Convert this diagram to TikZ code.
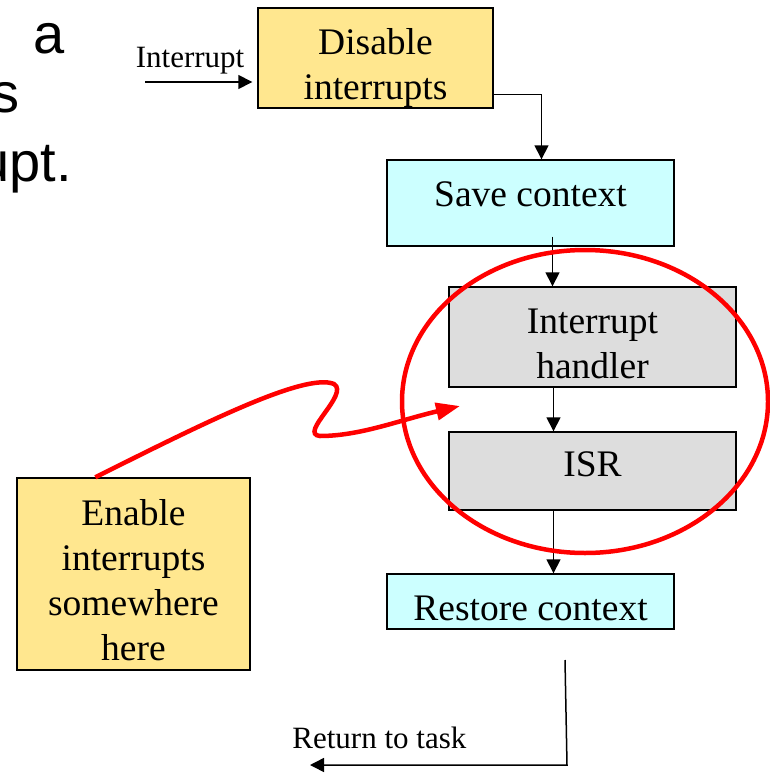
\documentclass[tikz,border=0pt]{standalone}
\usepackage{fontspec}
\setmainfont{Liberation Serif}
\newfontfamily\slidefont{Liberation Sans}
\usetikzlibrary{positioning, arrows.meta}

\definecolor{boxyellow}{RGB}{255,231,143}
\definecolor{boxcyan}{RGB}{204,255,255}
\definecolor{boxgrey}{RGB}{221,221,221}

\begin{document}
\begin{tikzpicture}[x=1pt, y=-1pt,
    box/.style={rectangle, draw=black, line width=1.4pt, inner sep=0pt},
    boxtext/.style={inner sep=0pt, align=center, font=\fontsize{37.5}{45}\selectfont},
    flow/.style={line width=1.5pt, -{Triangle[length=14pt, width=14pt]}},
    hint/.style={draw=red, line width=4.5pt},
    slide/.style={inner sep=0pt, anchor=base east, font=\slidefont\fontsize{56}{60}\selectfont},
    small/.style={font=\fontsize{31}{36}\selectfont},]
    \useasboundingbox (0,0) rectangle (770,773);
    % slide text cut off at the left
    \node[slide] (t1) at (65,54)  {a};
    \node[slide] (t2) at (20,113) {s};
    \node[slide] (t3) at (72,181) {upt.};
    % boxes
    \node[box, fill=boxyellow, minimum width=235pt, minimum height=100pt] (D) at (375.5,58)  {};
    \node[box, fill=boxcyan,   minimum width=287pt, minimum height=86pt]  (S) at (530.5,203) {};
    \node[box, fill=boxgrey,   minimum width=287pt, minimum height=100pt] (H) at (592.5,337) {};
    \node[box, fill=boxgrey,   minimum width=287pt, minimum height=78pt]  (I) at (592.5,471) {};
    \node[box, fill=boxcyan,   minimum width=287pt, minimum height=55pt]  (R) at (530.5,601.5) {};
    \node[box, fill=boxyellow, minimum width=233pt, minimum height=192pt] (E) at (133.5,574) {};
    % box texts
    \node[boxtext] (Dt) at ([yshift=-10pt]D.center) {Disable\\interrupts};
    \node[boxtext] (St) at ([yshift=9pt]S.center)   {Save context};
    \node[boxtext] (Ht) at ([yshift=-7pt]H.center)  {Interrupt\\handler};
    \node[boxtext] (It) at ([yshift=7pt]I.center)   {ISR};
    \node[boxtext] (Rt) at ([yshift=-7pt]R.center)  {Restore context};
    \node[boxtext] (Et) at ([yshift=-6pt]E.center)  {Enable\\interrupts\\somewhere\\here};
    \coordinate (in)  at (145,82);
    \coordinate (r1)  at (565,660);
    \coordinate (r2)  at (567,765);
    \coordinate (r3)  at (310,765);
    \coordinate (tip) at (460,406);
    % lines
    \draw[flow] (in) -- ([xshift=-5pt]in -| D.west) node[pos=0.42, above=4pt, small]{Interrupt};
    \draw[flow] ([yshift=14pt]D.south east) -| ([xshift=11pt]S.north);
    \draw[flow] ([xshift=22pt, yshift=10pt]S.south) -- ([xshift=22pt]S.south |- H.north);
    \draw[flow] ([xshift=-39pt]H.south) -- ([xshift=-39pt]I.north);
    \draw[flow] ([xshift=-39pt]I.south) -- ([xshift=-39pt]I.south |- R.north);
    \draw[flow] (r1) -- (r2) -- (r3) node[pos=0.73, above=12pt, small]{Return to task};
    % red marking
    \draw[hint] (585,401.5) ellipse [x radius=183, y radius=151.5];
    \draw[hint, -{Triangle[length=24pt, width=17pt]}] ([xshift=79pt]E.north west)
        .. controls (200,425) and (305,372) .. (334,384)
        .. controls (350,394) and (298,434) .. (320,436)
        .. controls (360,436) and (400,420) .. (tip);
\end{tikzpicture}
\end{document}
